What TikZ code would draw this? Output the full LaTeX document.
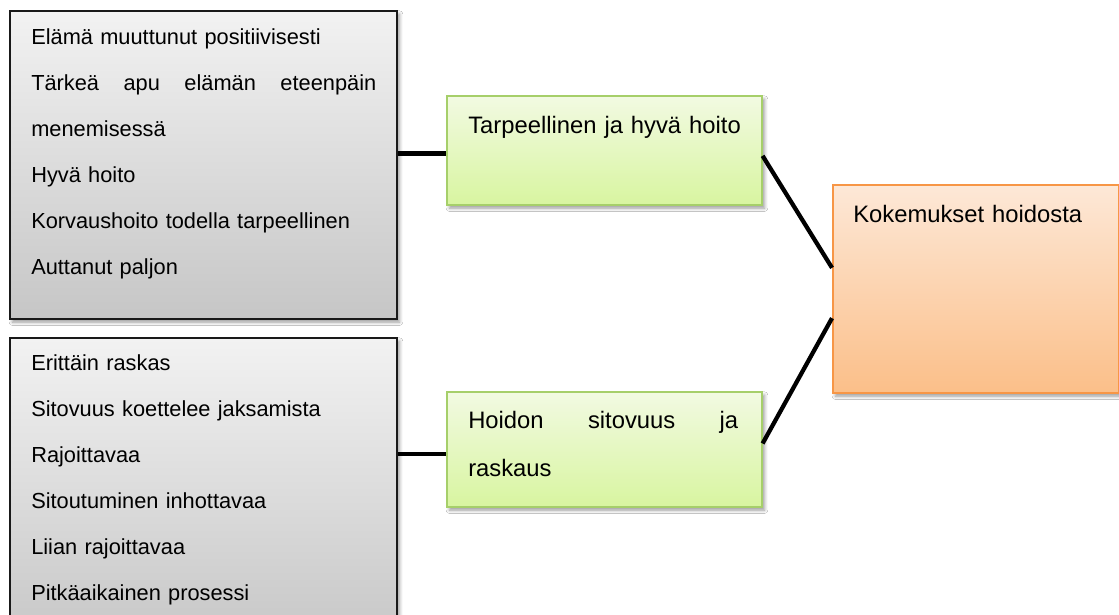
\documentclass[tikz,border=0pt]{standalone}
\usepackage{fontspec}
\setmainfont{Liberation Sans}
\usetikzlibrary{calc,shadows.blur}

\definecolor{grayTop}{HTML}{F2F2F2}
\definecolor{grayBot}{HTML}{C6C6C6}
\definecolor{greenTop}{HTML}{F2FAE2}
\definecolor{greenBot}{HTML}{D8F5A0}
\definecolor{greenLine}{HTML}{A6CF6A}
\definecolor{orangeTop}{HTML}{FDE8D7}
\definecolor{orangeBot}{HTML}{FBBF89}
\definecolor{orangeLine}{HTML}{F79646}

\tikzset{
  box/.style={rectangle, inner sep=0pt, anchor=north west, line width=1.2pt,
    blur shadow={shadow xshift=2pt, shadow yshift=-2.5pt,
                 shadow blur radius=2.5pt, shadow opacity=40}},
  graybox/.style={box, draw=black!90, top color=grayTop, bottom color=grayBot,
    minimum width=290.25pt, minimum height=231pt},
  greenbox/.style={box, draw=greenLine, top color=greenTop, bottom color=greenBot,
    minimum width=236.25pt},
  orangebox/.style={box, draw=orangeLine, top color=orangeTop, bottom color=orangeBot,
    minimum width=214.5pt, minimum height=156pt},
  smalltxt/.style={anchor=north west, inner sep=0pt, align=left, text width=262pt,
    font=\fontsize{16.35pt}{34.5pt}\selectfont, execute at begin node=\strut},
  bigtxt/.style={anchor=north west, inner sep=0pt, align=left, text width=215pt,
    font=\fontsize{17.85pt}{36.4pt}\selectfont, execute at begin node=\strut},
  conn/.style={line width=3.2pt, black},
}

\begin{document}
\begin{tikzpicture}[x=0.75pt, y=-0.75pt]
  \clip (0,0) rectangle (1119,614);
  \fill[white] (0,0) rectangle (1119,614);

  % grey lists of statements
  \node[graybox] (g1) at (9,10) {};
  \node[graybox] (g2) at (9,337) {};

  \node[smalltxt] (g1t) at (31,11.8) {Elämä muuttunut positiivisesti\\
    \makebox[258.75pt][l]{Tärkeä\hfill apu\hfill elämän\hfill eteenpäin}\\
    menemisessä\\
    Hyvä hoito\\
    Korvaushoito todella tarpeellinen\\
    Auttanut paljon};

  \node[smalltxt] (g2t) at (31,338.5) {Erittäin raskas\\
    Sitovuus koettelee jaksamista\\
    Rajoittavaa\\
    Sitoutuminen inhottavaa\\
    Liian rajoittavaa\\
    Pitkäaikainen prosessi};

  % green sub-themes
  \node[greenbox, minimum height=81.75pt] (gr1) at (446,95) {};
  \node[greenbox, minimum height=86.25pt] (gr2) at (446,391) {};

  \node[bigtxt] (gr1t) at (468,99) {Tarpeellinen ja hyvä hoito};
  \node[bigtxt] (gr2t) at (468,394) {\makebox[202.5pt][l]{Hoidon\hfill sitovuus\hfill ja}\\raskaus};

  % orange main theme
  \node[orangebox] (or) at (832,184) {};
  \node[bigtxt, text width=190pt] (ort) at (853,188) {Kokemukset hoidosta};

  % connectors
  \draw[conn] ($(gr1.north west)!0.53!(gr1.south west)$) coordinate (c1) -- (c1 -| g1.east);
  \draw[conn] ($(gr2.north west)!0.54!(gr2.south west)$) coordinate (c2) -- (c2 -| g2.east);
  \draw[conn] ($(gr1.north east)!0.55!(gr1.south east)$) -- ($(or.north west)!0.40!(or.south west)$);
  \draw[conn] ($(gr2.north east)!0.45!(gr2.south east)$) -- ($(or.north west)!0.64!(or.south west)$);
\end{tikzpicture}
\end{document}
